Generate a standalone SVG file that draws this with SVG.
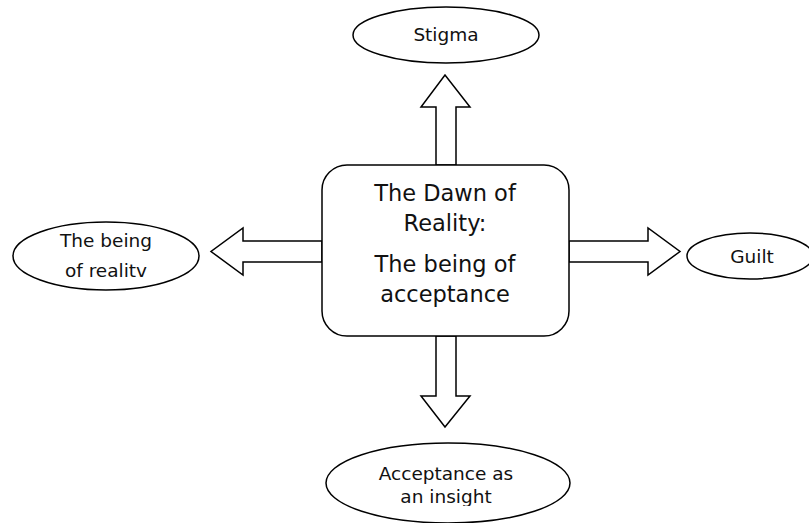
<svg xmlns="http://www.w3.org/2000/svg" width="809" height="523" viewBox="0 0 809 523">
  <style>
    .shape { fill: #ffffff; stroke: #000000; stroke-width: 1.5; }
    .arrow { fill: #ffffff; stroke: #000000; stroke-width: 1.5; stroke-linejoin: miter; }
    .label { font-family: "DejaVu Sans", "Liberation Sans", sans-serif; fill: #111111; text-anchor: middle; }
    .small { font-size: 18.5px; }
    .big { font-size: 22.5px; }
  </style>
  <defs>
    <clipPath id="clip-left"><rect x="0" y="200" width="330" height="78"/></clipPath>
    <clipPath id="clip-bottom"><rect x="300" y="430" width="300" height="76"/></clipPath>
  </defs>
  <rect width="809" height="523" fill="#ffffff"/>

  <!-- block arrows leading out of the central box -->
  <g id="connectors">
    <polygon class="arrow" points="436,165 436,107 421,107 445,75 470,107 456,107 456,165"/>
    <polygon class="arrow" points="436,336 436,396 421,396 445,427 470,396 456,396 456,336"/>
    <polygon class="arrow" points="322,241 243,241 243,228 211,251.5 243,275 243,262 322,262"/>
    <polygon class="arrow" points="569,241 648,241 648,228 680,251.5 648,275 648,262 569,262"/>
  </g>

  <g id="center">
    <rect class="shape" x="322" y="165" width="247" height="171" rx="25" ry="25"/>
    <text class="label big" x="445" y="201">The Dawn of</text>
    <text class="label big" x="445" y="231">Reality:</text>
    <text class="label big" x="445" y="272">The being of</text>
    <text class="label big" x="445" y="302">acceptance</text>
  </g>

  <g id="stigma">
    <ellipse class="shape" cx="446" cy="35" rx="93" ry="28"/>
    <text class="label small" x="446" y="41">Stigma</text>
  </g>

  <g id="reality">
    <ellipse class="shape" cx="106" cy="256" rx="93" ry="34"/>
    <g clip-path="url(#clip-left)">
      <text class="label small" x="106" y="247">The being</text>
      <text class="label small" x="106" y="277">of realitv</text>
    </g>
  </g>

  <g id="guilt">
    <ellipse class="shape" cx="750" cy="256" rx="63" ry="23"/>
    <text class="label small" x="752" y="263">Guilt</text>
  </g>

  <g id="insight">
    <ellipse class="shape" cx="448" cy="483" rx="122" ry="40"/>
    <g clip-path="url(#clip-bottom)">
      <text class="label small" x="446" y="480">Acceptance as</text>
      <text class="label small" x="446" y="503">an insight</text>
    </g>
  </g>
</svg>
